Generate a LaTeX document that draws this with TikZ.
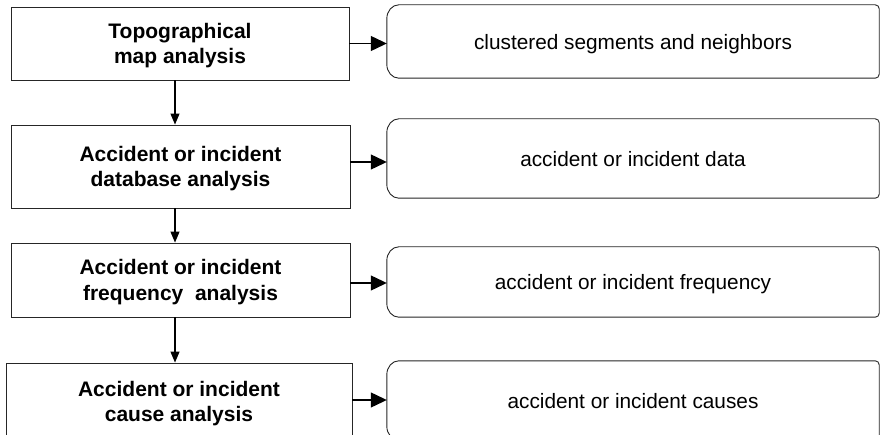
\documentclass[tikz,border=0pt]{standalone}
\usepackage{fontspec}
\setmainfont{Liberation Sans}
\usetikzlibrary{arrows.meta}

% Outline of an output card: wide bracket-like left corners, tight right corners
\newcommand\outcard[1]{%
  \draw[cardline] ([xshift=12pt]#1.north west) -- ([xshift=-4pt]#1.north east)
    arc[start angle=90,end angle=0,radius=4pt]
    -- ([yshift=4pt]#1.south east)
    arc[start angle=0,end angle=-90,radius=4pt]
    -- ([xshift=12pt]#1.south west)
    arc[start angle=-90,end angle=-180,x radius=12pt,y radius=14pt]
    -- ([yshift=-14pt]#1.north west)
    arc[start angle=180,end angle=90,x radius=12pt,y radius=14pt] -- cycle;}

\begin{document}
\begin{tikzpicture}[x=1pt,y=1pt,
  stage/.style={draw=black!85,line width=0.9pt,inner sep=0pt,align=center,
    text depth=0pt,font=\bfseries\fontsize{21}{25.5}\selectfont},
  card/.style={inner sep=0pt,align=center,text depth=0pt,
    font=\fontsize{20.8}{25}\selectfont},
  cardline/.style={draw=black!85,line width=0.9pt},
  down/.style={draw=black,line width=1.1pt,-{Triangle[length=11pt,width=9pt]}},
  side/.style={draw=black,line width=1.2pt,-{Triangle[length=16pt,width=15pt]}}]

\useasboundingbox (0,0) rectangle (880,-435);
\clip (0,0) rectangle (880,-435);
\fill[white] (0,0) rectangle (880,-435);

% analysis stages
\node[stage,minimum width=338pt,minimum height=73pt] (b1) at (180,-43.5)
  {Topographical\\map analysis};
\node[stage,minimum width=339pt,minimum height=83pt] (b2) at (180.5,-166.5)
  {Accident or incident\\database analysis};
\node[stage,minimum width=339pt,minimum height=74pt] (b3) at (180.5,-280)
  {Accident or incident\\frequency\ \ analysis};
\node[stage,minimum width=346pt,minimum height=77pt] (b4) at (179,-401.5)
  {Accident or incident\\cause analysis};

% outputs
\node[card,minimum width=492pt,minimum height=73pt] (r1) at (633,-41.5)
  {clustered segments and neighbors};
\node[card,minimum width=492pt,minimum height=79pt] (r2) at (633,-158.5)
  {accident or incident data};
\node[card,minimum width=492pt,minimum height=70pt] (r3) at (633,-282)
  {accident or incident frequency};
\node[card,minimum width=492pt,minimum height=79pt] (r4) at (633,-400.5)
  {accident or incident causes};
\outcard{r1}\outcard{r2}\outcard{r3}\outcard{r4}

% flow between stages
\draw[down] ([xshift=-5pt]b1.south) -- ([xshift=-5pt]b1.south |- b2.north);
\draw[down] ([xshift=-5.5pt]b2.south) -- ([xshift=-5.5pt]b2.south |- b3.north);
\draw[down] ([xshift=-5.5pt]b3.south) -- ([xshift=-5.5pt]b3.south |- b4.north);

% stage outputs
\coordinate (a1) at (b1.east);
\coordinate (a2) at ([yshift=4.5pt]b2.east);
\coordinate (a3) at ([yshift=-3pt]b3.east);
\coordinate (a4) at ([yshift=1.5pt]b4.east);
\draw[side] (a1) -- (a1 -| r1.west);
\draw[side] (a2) -- (a2 -| r2.west);
\draw[side] (a3) -- (a3 -| r3.west);
\draw[side] (a4) -- (a4 -| r4.west);
\end{tikzpicture}
\end{document}
